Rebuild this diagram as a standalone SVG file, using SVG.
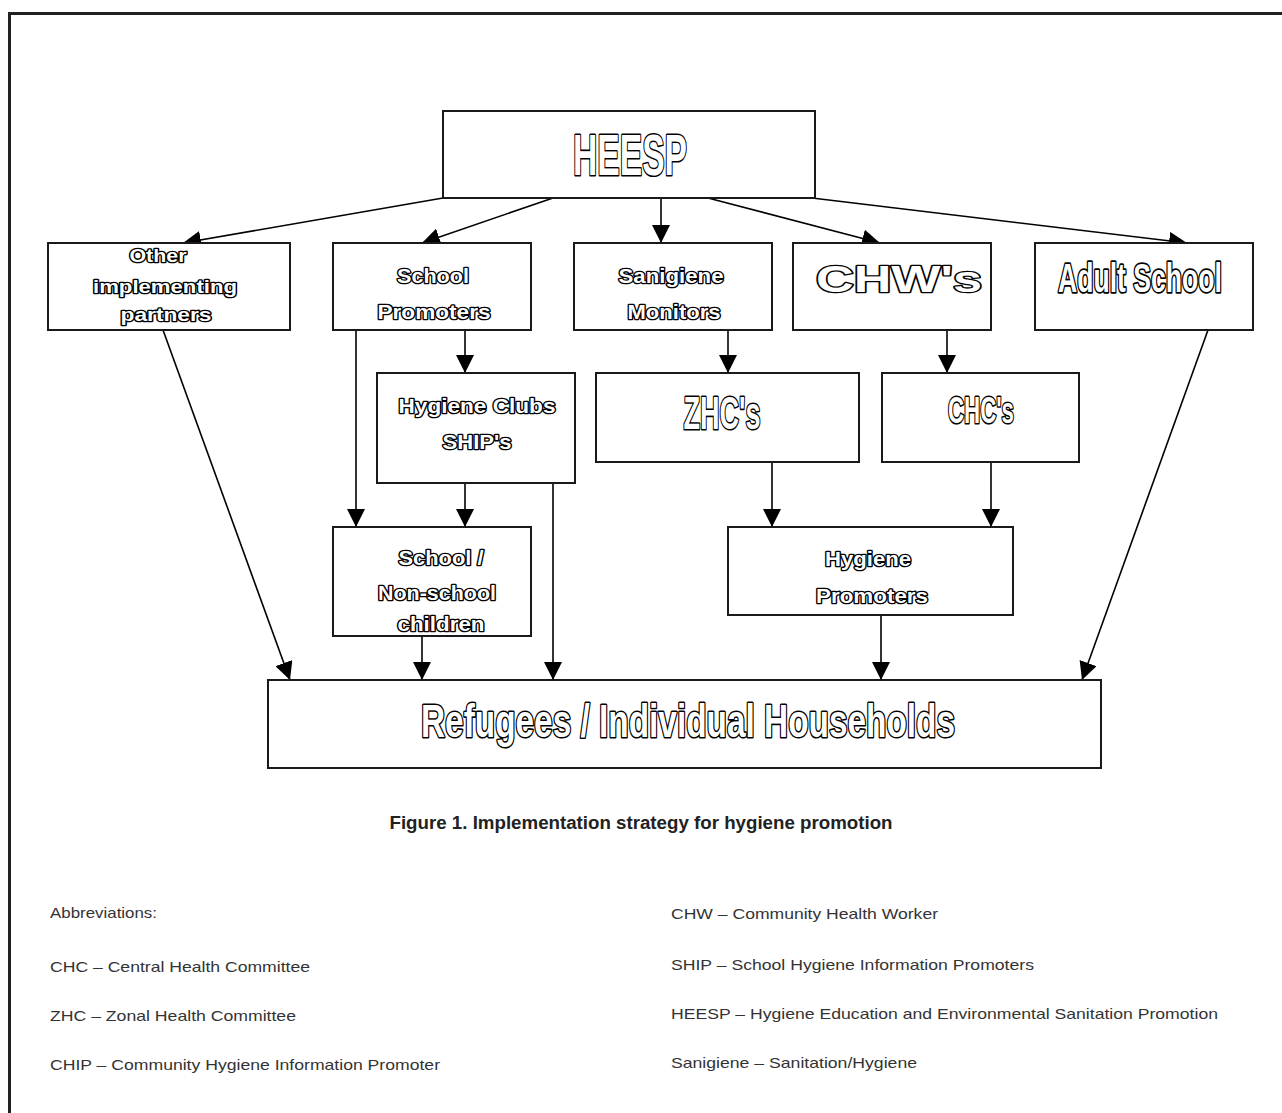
<svg xmlns="http://www.w3.org/2000/svg" width="1282" height="1113" viewBox="0 0 1282 1113">
<style>
.box{fill:#fff;stroke:#1a1a1a;stroke-width:2}
.ln{fill:none;stroke:#000;stroke-width:1.6}
.rd{font-family:"Liberation Sans",Arial,sans-serif;font-weight:bold;fill:#fff;stroke:#000;stroke-width:2.7;paint-order:stroke;stroke-linejoin:round;text-anchor:middle}
.nr{font-family:"Liberation Sans",Arial,sans-serif;font-weight:bold;fill:#fff;stroke:#000;stroke-width:3.2;paint-order:stroke;stroke-linejoin:round;text-anchor:middle}
.ab{font-family:"Liberation Sans",Arial,sans-serif;font-size:15px;fill:#333}
.cap{font-family:"Liberation Sans",Arial,sans-serif;font-size:18px;font-weight:bold;fill:#222;text-anchor:middle}
</style>
<defs>
<marker id="ah" viewBox="0 0 18 18" refX="18" refY="9" markerWidth="18" markerHeight="18" markerUnits="userSpaceOnUse" orient="auto">
<path d="M0,0 L18,9 L0,18 z" fill="#000"/>
</marker>
</defs>
<rect width="1282" height="1113" fill="#fff"/>
<path d="M9.5,1113 V13.5 H1282" fill="none" stroke="#222" stroke-width="3"/>

<g id="connectors" class="ln" marker-end="url(#ah)">
<path d="M443,198 L183,243"/>
<path d="M553,198 L422,243"/>
<path d="M661,198 L661,243"/>
<path d="M708,198 L880,243"/>
<path d="M812,198 L1187,243"/>
<path d="M465,330 L465,373"/>
<path d="M356,330 L356,527"/>
<path d="M465,483 L465,527"/>
<path d="M553,483 L553,680"/>
<path d="M728,330 L728,373"/>
<path d="M947,330 L947,373"/>
<path d="M772,462 L772,527"/>
<path d="M991,462 L991,527"/>
<path d="M422,636 L422,680"/>
<path d="M881,615 L881,680"/>
<path d="M163,330 L290,680"/>
<path d="M1208,330 L1082,680"/>
</g>

<g id="heesp">
<rect class="box" x="443" y="111" width="372" height="87"/>
<text class="nr" x="630" y="175" font-size="58" textLength="114" lengthAdjust="spacingAndGlyphs">HEESP</text>
</g>

<g id="other">
<rect class="box" x="48" y="243" width="242" height="87"/>
<text class="rd" font-size="19"><tspan x="158" y="262" textLength="57" lengthAdjust="spacingAndGlyphs">Other</tspan><tspan x="165" y="293" textLength="144" lengthAdjust="spacingAndGlyphs">implementing</tspan><tspan x="166" y="321" textLength="91" lengthAdjust="spacingAndGlyphs">partners</tspan></text>
</g>

<g id="school-promoters">
<rect class="box" x="333" y="243" width="198" height="87"/>
<text class="rd" font-size="21"><tspan x="433" y="283" textLength="72" lengthAdjust="spacingAndGlyphs">School</tspan><tspan x="434" y="319" textLength="113" lengthAdjust="spacingAndGlyphs">Promoters</tspan></text>
</g>

<g id="sanigiene">
<rect class="box" x="574" y="243" width="198" height="87"/>
<text class="rd" font-size="21"><tspan x="671" y="283" textLength="105" lengthAdjust="spacingAndGlyphs">Sanigiene</tspan><tspan x="674" y="319" textLength="93" lengthAdjust="spacingAndGlyphs">Monitors</tspan></text>
</g>

<g id="chws">
<rect class="box" x="793" y="243" width="198" height="87"/>
<text class="rd" x="899" y="292" font-size="37" style="stroke-width:2.6" textLength="166" lengthAdjust="spacingAndGlyphs">CHW's</text>
</g>

<g id="adult-school">
<rect class="box" x="1035" y="243" width="218" height="87"/>
<text class="nr" transform="translate(1140,292) scale(0.665,1)" x="0" y="0" font-size="40" style="stroke-width:3.6">Adult School</text>
</g>

<g id="hygiene-clubs">
<rect class="box" x="377" y="373" width="198" height="110"/>
<text class="rd" font-size="21"><tspan x="477" y="413" textLength="157" lengthAdjust="spacingAndGlyphs">Hygiene Clubs</tspan><tspan x="477" y="449" textLength="69" lengthAdjust="spacingAndGlyphs">SHIP's</tspan></text>
</g>

<g id="zhcs">
<rect class="box" x="596" y="373" width="263" height="89"/>
<text class="nr" x="722" y="429" font-size="46" textLength="77" lengthAdjust="spacingAndGlyphs">ZHC's</text>
</g>

<g id="chcs">
<rect class="box" x="882" y="373" width="197" height="89"/>
<text class="nr" x="981" y="423" font-size="36" textLength="66" lengthAdjust="spacingAndGlyphs">CHC's</text>
</g>

<g id="children">
<rect class="box" x="333" y="527" width="198" height="109"/>
<text class="rd" font-size="20"><tspan x="441" y="565" textLength="85" lengthAdjust="spacingAndGlyphs">School /</tspan><tspan x="437" y="600" textLength="118" lengthAdjust="spacingAndGlyphs">Non-school</tspan><tspan x="441" y="631" textLength="87" lengthAdjust="spacingAndGlyphs">children</tspan></text>
</g>

<g id="hygiene-promoters">
<rect class="box" x="728" y="527" width="285" height="88"/>
<text class="rd" font-size="21"><tspan x="868" y="566" textLength="86" lengthAdjust="spacingAndGlyphs">Hygiene</tspan><tspan x="872" y="603" textLength="112" lengthAdjust="spacingAndGlyphs">Promoters</tspan></text>
</g>

<g id="refugees">
<rect class="box" x="268" y="680" width="833" height="88"/>
<text class="nr" x="688" y="737" font-size="46" textLength="534" lengthAdjust="spacingAndGlyphs">Refugees / Individual Households</text>
</g>

<text class="cap" x="641" y="829" textLength="503" lengthAdjust="spacingAndGlyphs">Figure 1. Implementation strategy for hygiene promotion</text>

<g id="abbreviations" class="ab">
<text x="50" y="918" textLength="107" lengthAdjust="spacingAndGlyphs">Abbreviations:</text>
<text x="50" y="972" textLength="260" lengthAdjust="spacingAndGlyphs">CHC – Central Health Committee</text>
<text x="50" y="1021" textLength="246" lengthAdjust="spacingAndGlyphs">ZHC – Zonal Health Committee</text>
<text x="50" y="1070" textLength="390" lengthAdjust="spacingAndGlyphs">CHIP – Community Hygiene Information Promoter</text>
<text x="671" y="919" textLength="267" lengthAdjust="spacingAndGlyphs">CHW – Community Health Worker</text>
<text x="671" y="970" textLength="363" lengthAdjust="spacingAndGlyphs">SHIP – School Hygiene Information Promoters</text>
<text x="671" y="1019" textLength="547" lengthAdjust="spacingAndGlyphs">HEESP – Hygiene Education and Environmental Sanitation Promotion</text>
<text x="671" y="1068" textLength="246" lengthAdjust="spacingAndGlyphs">Sanigiene – Sanitation/Hygiene</text>
</g>
</svg>
